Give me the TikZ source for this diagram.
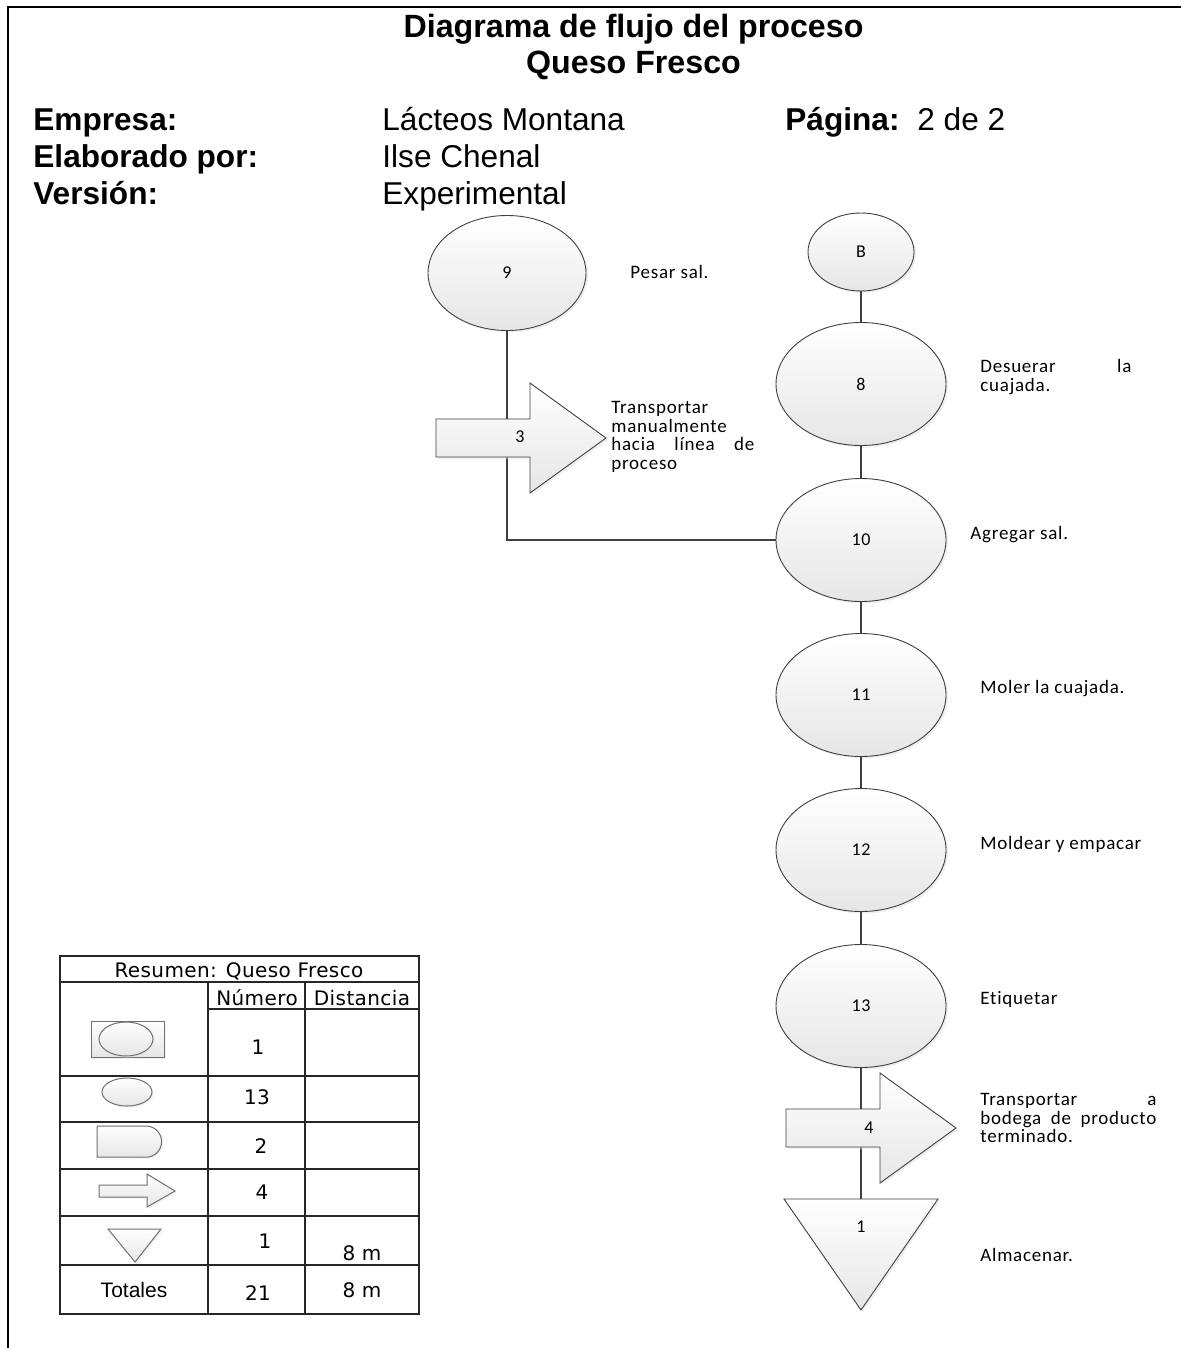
\documentclass[tikz,border=0pt]{standalone}
\usepackage{fontspec}
\setmainfont{Liberation Sans}
\newfontfamily\lbl[LetterSpace=4,Ligatures={NoCommon}]{Carlito}
\newfontfamily\tbl[LetterSpace=2]{DejaVu Sans}
\usetikzlibrary{shapes.geometric,shadows}
\definecolor{linec}{HTML}{404040}
\definecolor{iconline}{HTML}{707070}
\definecolor{shapefill}{HTML}{E6E6E6}
\tikzset{
  shapestyle/.style={draw=linec, line width=0.45pt, top color=white, bottom color=shapefill,
    drop shadow={shadow xshift=1pt, shadow yshift=-1pt, fill=black!12}},
  opnode/.style={ellipse, shapestyle, inner sep=0pt, font=\lbl\fontsize{9}{9}\selectfont},
  bigop/.style={opnode, minimum width=85pt, minimum height=61.5pt},
  conn/.style={draw=linec, line width=1.2pt},
  thinconn/.style={draw=linec, line width=0.6pt},
  desc/.style={font=\lbl\fontsize{9.5}{9.25}\selectfont, inner sep=0pt, anchor=west, align=left},
  numlbl/.style={font=\lbl\fontsize{9}{9}\selectfont, inner sep=0pt},
  head/.style={font=\fontsize{15.8}{18}\selectfont, inner sep=0pt, anchor=base west},
  headbold/.style={head, font=\fontsize{15.8}{18}\selectfont\bfseries},
  tline/.style={draw=black!85, line width=0.6pt},
  ttext/.style={font=\tbl\fontsize{10}{11}\selectfont, inner sep=0pt},
  icon/.style={draw=iconline, line width=0.5pt, top color=white, bottom color=shapefill,
    drop shadow={shadow xshift=0.8pt, shadow yshift=-0.8pt, fill=black!10}},
  pics/blockarrow/.style={code={
    \path[shapestyle] (0,-19) -- (94,-19) -- (94,-55) -- (170,0) -- (94,55) -- (94,19) -- (0,19) -- cycle;
  }}
}
\begin{document}
\begin{tikzpicture}[x=0.5pt,y=-0.5pt]
\useasboundingbox (0,0) rectangle (1181,1348);
\fill[white] (0,0) rectangle (1181,1348);

% page frame
\draw[line width=1pt] (7.5,1348) -- (7.5,7.5) -- (1181,7.5);

% heading
\node[font=\fontsize{16.1}{18}\selectfont\bfseries, inner sep=0pt, anchor=base] (t1) at (633.5,37.5) {Diagrama de flujo del proceso};
\node[font=\fontsize{16.1}{18}\selectfont\bfseries, inner sep=0pt, anchor=base] (t2) at (633.5,74) {Queso Fresco};
\node[headbold] (k1) at (33,131) {Empresa:};
\node[headbold] (k2) at (33,168) {Elaborado por:};
\node[headbold] (k3) at (33,205) {Versión:};
\node[head] (v1) at (382,131) {Lácteos Montana};
\node[head] (v2) at (382,168) {Ilse Chenal};
\node[head] (v3) at (382,205) {Experimental};
\node[headbold] (k4) at (785,131) {Página:};
\node[head] (v4) at (917,131) {2 de 2};

% process nodes
\node[opnode, minimum width=79pt, minimum height=57.5pt] (n9) at (507,273) {9};
\node[opnode, minimum width=53pt, minimum height=39pt] (nB) at (861,252) {B};
\node[bigop] (n8) at (861,384) {8};
\node[bigop] (n10) at (861,540) {10};
\node[bigop] (n11) at (861,695) {11};
\node[bigop] (n12) at (861,850) {12};
\node[bigop] (n13) at (861,1006) {13};
\coordinate (st) at (861,1199);

% connectors
\draw[thinconn] (n9) |- (n10);
\draw[conn] (nB) -- (n8);
\draw[conn] (n8) -- (n10);
\draw[conn] (n10) -- (n11);
\draw[conn] (n11) -- (n12);
\draw[conn] (n12) -- (n13);
\draw[conn] (n13) -- (st);

% transport arrows
\pic at (436,438) {blockarrow};
\node[numlbl] (a3) at (520,437) {3};
\pic at (786,1128) {blockarrow};
\node[numlbl] (a4) at (869,1128) {4};

% storage triangle
\path[shapestyle] (784,1199) -- (938,1199) -- (861,1310) -- cycle;
\node[numlbl] (s1) at (861,1227) {1};

% descriptions
\node[desc] (d9) at (630,272) {Pesar sal.};
\node[desc] (d3) at (611,437) {Transportar\\manualmente\\\hbox to 71.5pt{hacia\hfill línea\hfill de}\\proceso};
\node[desc] (d8) at (980,377) {\hbox to 75.5pt{Desuerar\hfill la}\\cuajada.};
\node[desc] (d10) at (970,535) {Agregar sal.};
\node[desc] (d11) at (980,689) {Moler la cuajada.};
\node[desc] (d12) at (980,844) {Moldear y empacar};
\node[desc] (d13) at (980,999) {Etiquetar};
\node[desc] (d4) at (980,1118) {\hbox to 88pt{Transportar\hfill a}\\\hbox to 88pt{bodega\hfill de\hfill producto}\\terminado.};
\node[desc] (d1) at (980,1255) {Almacenar.};

% summary table
\draw[tline] (60,956) rectangle (419,1314);
\draw[tline] (60,982) -- (419,982);
\draw[tline] (208,1009) -- (419,1009);
\foreach \yy in {1076,1122,1169,1216,1265} \draw[tline] (60,\yy) -- (419,\yy);
\draw[tline] (208,982) -- (208,1314);
\draw[tline] (305,982) -- (305,1314);

\node[ttext] (th) at (239,971) {Resumen: Queso Fresco};
\node[ttext] (tn) at (257,998) {Número};
\node[ttext] (td) at (362,998) {Distancia};
\node[ttext] (r1) at (258,1047) {1};
\node[ttext] (r2) at (257,1097) {13};
\node[ttext] (r3) at (261,1146) {2};
\node[ttext] (r4) at (262,1192) {4};
\node[ttext] (r5) at (265,1241) {1};
\node[ttext] (r5d) at (362,1253) {8 m};
\node[font=\fontsize{10.5}{12}\selectfont, inner sep=0pt] (tt) at (134,1290) {Totales};
\node[ttext] (tsum) at (258,1293) {21};
\node[ttext] (tdist) at (362,1290) {8 m};

% summary symbols
\path[icon] (91,1021) rectangle (164,1057);
\path[icon] (126,1039) ellipse [x radius=13.5pt, y radius=8.5pt];
\path[icon] (127,1092) ellipse [x radius=12.5pt, y radius=7pt];
\path[icon] (97,1126) -- (146,1126) arc[start angle=90, end angle=-90, radius=7.8pt] -- (97,1157) -- cycle;
\path[icon] (99,1185) -- (147,1185) -- (147,1174) -- (175,1191) -- (147,1207) -- (147,1197) -- (99,1197) -- cycle;
\path[icon] (108,1229) -- (161,1229) -- (135,1262) -- cycle;
\end{tikzpicture}
\end{document}
